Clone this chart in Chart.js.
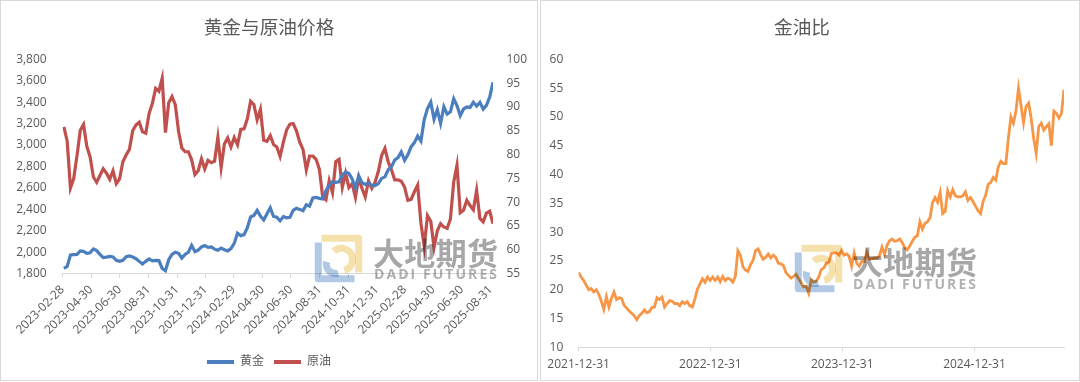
<!DOCTYPE html>
<html><head><meta charset="utf-8">
<script src="https://cdn.jsdelivr.net/npm/chart.js@4.4.1/dist/chart.umd.min.js"></script>
<style>
html,body{margin:0;padding:0;background:#fff;}
body{width:1080px;height:382px;position:relative;overflow:hidden;}
.panel{position:absolute;top:0;height:382px;}
#p1{left:0;width:538px;}
#p2{left:540px;width:540px;}
.frame{position:absolute;border:1px solid #d9d9d9;box-sizing:border-box;pointer-events:none;}
canvas{display:block;}
</style></head><body>
<div class="panel" id="p1"><canvas id="c1" width="538" height="382"></canvas></div>
<div class="panel" id="p2"><canvas id="c2" width="540" height="382"></canvas></div>
<div class="frame" style="left:0;top:0;width:538px;height:381px"></div>
<div class="frame" style="left:540px;top:0;width:540px;height:381px"></div>
<script>
// ---------- DATA ----------
// weekly (Friday) observation dates
const weekDates = [
'2021-12-31',
'2022-01-07','2022-01-14','2022-01-21','2022-01-28','2022-02-04','2022-02-11','2022-02-18','2022-02-25',
'2022-03-04','2022-03-11','2022-03-18','2022-03-25','2022-04-01','2022-04-08','2022-04-15','2022-04-22','2022-04-29',
'2022-05-06','2022-05-13','2022-05-20','2022-05-27','2022-06-03','2022-06-10','2022-06-17','2022-06-24',
'2022-07-01','2022-07-08','2022-07-15','2022-07-22','2022-07-29','2022-08-05','2022-08-12','2022-08-19','2022-08-26',
'2022-09-02','2022-09-09','2022-09-16','2022-09-23','2022-09-30','2022-10-07','2022-10-14','2022-10-21','2022-10-28',
'2022-11-04','2022-11-11','2022-11-18','2022-11-25','2022-12-02','2022-12-09','2022-12-16','2022-12-23','2022-12-30',
'2023-01-06','2023-01-13','2023-01-20','2023-01-27','2023-02-03','2023-02-10','2023-02-17','2023-02-24',
'2023-03-03','2023-03-10','2023-03-17','2023-03-24','2023-03-31','2023-04-07','2023-04-14','2023-04-21','2023-04-28',
'2023-05-05','2023-05-12','2023-05-19','2023-05-26','2023-06-02','2023-06-09','2023-06-16','2023-06-23','2023-06-30',
'2023-07-07','2023-07-14','2023-07-21','2023-07-28','2023-08-04','2023-08-11','2023-08-18','2023-08-25',
'2023-09-01','2023-09-08','2023-09-15','2023-09-22','2023-09-29','2023-10-06','2023-10-13','2023-10-20','2023-10-27',
'2023-11-03','2023-11-10','2023-11-17','2023-11-24','2023-12-01','2023-12-08','2023-12-15','2023-12-22','2023-12-29',
'2024-01-05','2024-01-12','2024-01-19','2024-01-26','2024-02-02','2024-02-09','2024-02-16','2024-02-23',
'2024-03-01','2024-03-08','2024-03-15','2024-03-22','2024-03-29','2024-04-05','2024-04-12','2024-04-19','2024-04-26',
'2024-05-03','2024-05-10','2024-05-17','2024-05-24','2024-05-31','2024-06-07','2024-06-14','2024-06-21','2024-06-28',
'2024-07-05','2024-07-12','2024-07-19','2024-07-26','2024-08-02','2024-08-09','2024-08-16','2024-08-23','2024-08-30',
'2024-09-06','2024-09-13','2024-09-20','2024-09-27','2024-10-04','2024-10-11','2024-10-18','2024-10-25',
'2024-11-01','2024-11-08','2024-11-15','2024-11-22','2024-11-29','2024-12-06','2024-12-13','2024-12-20','2024-12-27',
'2025-01-03','2025-01-10','2025-01-17','2025-01-24','2025-01-31','2025-02-07','2025-02-14','2025-02-21','2025-02-28',
'2025-03-07','2025-03-14','2025-03-21','2025-03-28','2025-04-04','2025-04-11','2025-04-18','2025-04-25',
'2025-05-02','2025-05-09','2025-05-16','2025-05-23','2025-05-30','2025-06-06','2025-06-13','2025-06-20','2025-06-27',
'2025-07-04','2025-07-11','2025-07-18','2025-07-25','2025-08-01','2025-08-08','2025-08-15','2025-08-22','2025-08-29',
'2025-09-05'
];

// 黄金 (USD/oz), weekly from 2023-03-03
const goldValues = [
1850,1868,1975,1978,1980,2012,2008,1990,1995,2030,2015,1980,1950,1955,1962,1956,1925,1915,1925,1958,1965,1955,
1940,1915,1890,1915,1938,1920,1925,1922,1850,1828,1930,1980,2000,1990,1945,1980,2000,2065,2005,2020,2050,2062,
2045,2049,2029,2018,2039,2024,2013,2035,2083,2179,2155,2165,2230,2329,2344,2391,2337,2301,2360,2415,2334,2327,
2293,2333,2322,2326,2391,2411,2400,2387,2443,2431,2507,2512,2503,2497,2577,2621,2658,2653,2657,2721,2747,
2736,2685,2600,2715,2650,2633,2648,2622,2621,
2640,2689,2703,2770,2798,2861,2883,2936,2858,2910,2984,3023,3085,3037,3237,3340,3400,3241,3330,3203,3357,3289,
3310,3433,3368,3274,3337,3355,3350,3400,3363,3398,3336,3371,3448,3586
];

// 原油 (USD/bbl), weekly from 2023-03-03
const oilValues = [
85.8,82.8,73.0,75.0,79.8,85.1,86.3,81.7,79.5,75.3,74.2,75.6,77.0,76.1,74.8,76.6,73.9,74.9,78.5,79.9,81.1,85.0,
86.2,86.8,84.8,84.5,88.6,90.7,93.9,93.3,96.0,84.6,90.9,92.2,90.5,84.9,81.4,80.6,80.6,78.9,75.8,76.6,79.1,77.0,
78.8,78.3,78.6,83.6,77.3,82.2,83.5,81.6,83.6,82.1,85.3,85.4,87.5,91.2,90.5,87.3,89.5,83.0,82.8,84.0,82.1,81.6,
79.6,82.6,85.2,86.4,86.5,85.0,82.6,81.1,76.8,79.7,79.7,79.0,76.9,71.1,70.5,74.5,72.0,78.5,79.0,73.1,76.1,
73.1,73.9,71.0,75.2,72.9,71.1,74.5,72.9,74.2,
76.5,79.8,81.3,78.5,76.8,74.7,74.7,74.4,73.2,70.4,70.6,72.2,73.6,65.6,60.8,67.2,66.0,60.5,64.0,65.5,64.8,64.5,
66.5,74.2,77.8,67.8,68.3,70.4,69.3,68.4,72.5,66.6,65.9,67.7,68.1,65.5
];

// 金油比, weekly from 2021-12-31
const ratioValues = [
23.0,
22.2,21.6,20.8,20.0,20.2,19.6,20.0,19.2,18.0,16.6,18.8,17.0,18.5,19.6,18.3,18.6,18.5,17.3,16.8,16.3,15.9,
15.5,14.8,15.5,15.9,16.5,16.0,16.2,16.9,17.0,18.6,18.3,18.7,17.0,17.6,18.1,18.0,17.6,17.6,17.2,17.9,17.6,17.9,
17.2,17.0,18.4,20.1,21.0,21.9,21.3,22.2,21.6,
22.2,21.6,22.2,21.4,22.3,21.6,22.0,21.8,21.3,22.3,26.8,26.0,24.0,23.4,23.2,24.3,25.1,26.8,27.1,26.1,25.3,
25.6,26.2,25.5,26.0,25.6,24.6,24.5,24.2,23.0,22.5,22.0,22.3,22.7,21.9,21.2,20.5,20.6,19.4,21.7,21.3,21.5,22.2,
23.5,23.8,24.6,24.8,26.3,26.4,26.4,26.0,26.8,
26.0,26.2,25.8,24.1,26.4,24.6,24.1,24.9,24.9,26.5,25.3,25.4,25.5,25.5,25.9,27.4,26.1,27.7,28.5,28.8,28.4,28.5,
28.8,28.2,27.3,26.9,27.6,28.4,29.1,29.4,31.8,30.5,31.5,31.8,32.5,35.1,36.0,35.2,36.9,33.2,33.6,37.2,36.1,
37.4,36.3,36.1,36.1,36.3,37.0,35.5,36.0,35.3,
34.5,33.7,33.2,35.3,36.4,38.3,38.6,39.5,39.0,41.3,42.3,41.9,41.9,46.3,50.0,48.9,51.0,55.0,52.0,49.0,51.8,52.4,
49.8,46.3,43.7,48.3,48.9,47.7,48.3,48.8,45.0,51.0,50.6,49.8,50.6,54.7
];

const leftStart = '2023-03-03';
const leftAxisRange = ['2023-02-28','2025-09-05'];
const rightAxisRange = ['2021-12-31','2025-09-05'];
const leftTickLabels = ['2023-02-28','2023-04-30','2023-06-30','2023-08-31','2023-10-31','2023-12-31','2024-02-29','2024-04-30','2024-06-30','2024-08-31','2024-10-31','2024-12-31','2025-02-28','2025-04-30','2025-06-30','2025-08-31'];
const rightTickLabels = ['2021-12-31','2022-12-31','2023-12-31','2024-12-31'];
const seriesNames = ['黄金','原油','金油比'];
const titles = ['黄金与原油价格','金油比'];

// ---------- HELPERS ----------
function toDay(s){const [y,m,d]=s.split('-').map(Number);return Date.UTC(y,m-1,d)/86400000;}
function fromDay(v){const dt=new Date(Math.round(v)*86400000);return dt.toISOString().slice(0,10);}
const leftDates = weekDates.slice(weekDates.indexOf(leftStart));
const goldPts = leftDates.map((d,i)=>({x:toDay(d),y:goldValues[i]}));
const oilPts = leftDates.map((d,i)=>({x:toDay(d),y:oilValues[i]}));
const ratioPts = weekDates.map((d,i)=>({x:toDay(d),y:ratioValues[i]}));

const FONT = '"Open Sans","Noto Sans CJK SC",sans-serif';
Chart.defaults.font.family = FONT;
Chart.defaults.color = '#595959';

const COLORS = {gold:'#4A7EBF', oil:'#C0504D', ratio:'#F79646'};

function drawLogo(ctx,x,y,s){
  ctx.save();
  ctx.lineWidth=s*0.15; ctx.lineJoin='round'; ctx.lineCap='butt';
  ctx.strokeStyle='rgba(240,212,135,0.7)';
  ctx.beginPath(); ctx.moveTo(x+s*0.14,y+s*0.07); ctx.lineTo(x+s*0.93,y+s*0.07); ctx.lineTo(x+s*0.93,y+s*0.8); ctx.stroke();
  ctx.beginPath(); ctx.arc(x+s*0.56,y+s*0.52,s*0.24,-2.3,1.3); ctx.stroke();
  ctx.strokeStyle='rgba(145,178,218,0.7)';
  ctx.beginPath(); ctx.moveTo(x+s*0.07,y+s*0.16); ctx.lineTo(x+s*0.07,y+s*0.93); ctx.lineTo(x+s*0.84,y+s*0.93); ctx.stroke();
  ctx.beginPath(); ctx.arc(x+s*0.44,y+s*0.62,s*0.2,1.3,3.4); ctx.stroke();
  ctx.restore();
}
function spacedText(ctx,text,x,y,w){
  const chars=[...text];
  const widths=chars.map(c=>ctx.measureText(c).width);
  const total=widths.reduce((a,b)=>a+b,0);
  const gap=(w-total)/(chars.length-1);
  let cx=x;
  chars.forEach((c,i)=>{ctx.fillText(c,cx,y);cx+=widths[i]+gap;});
}
const watermark = {
  id:'watermark',
  afterDatasetsDraw(chart,args,opts){
    const ctx=chart.ctx;
    ctx.save();
    ctx.globalCompositeOperation='multiply';
    drawLogo(ctx,opts.logoX,opts.logoY,opts.logoS);
    ctx.fillStyle='rgba(125,125,125,0.68)';
    ctx.textBaseline='middle'; ctx.textAlign='left';
    ctx.font='bold 31px "Noto Sans CJK SC"';
    spacedText(ctx,'大地期货',opts.textX,opts.cnY,opts.textW);
    ctx.fillStyle='rgba(125,125,125,0.6)';
    ctx.font='bold 14px "Open Sans"';
    spacedText(ctx,'DADI FUTURES',opts.textX+1,opts.enY,opts.textW-2);
    ctx.restore();
  }
};

const titleOpts = (t)=>({display:true,text:t,color:'#595959',font:{size:18.67,weight:'normal',family:FONT},padding:{top:17.8,bottom:19.1}});

// ---------- LEFT CHART ----------
new Chart(document.getElementById('c1'),{
  type:'line',
  data:{datasets:[
    {label:seriesNames[0],data:goldPts,yAxisID:'y',borderColor:COLORS.gold,backgroundColor:COLORS.gold,borderWidth:3.2,pointRadius:0,tension:0},
    {label:seriesNames[1],data:oilPts,yAxisID:'y2',borderColor:COLORS.oil,backgroundColor:COLORS.oil,borderWidth:3.2,pointRadius:0,tension:0}
  ]},
  plugins:[watermark],
  options:{
    responsive:false,animation:false,
    layout:{padding:{left:0,right:0,top:0,bottom:4}},
    plugins:{
      title:titleOpts(titles[0]),
      legend:{position:'bottom',labels:{boxWidth:27,boxHeight:4,padding:10,color:'#595959',font:{size:12,family:FONT},
        generateLabels(chart){const it=Chart.defaults.plugins.legend.labels.generateLabels(chart);it.forEach(o=>{o.lineWidth=0;o.fillStyle=o.strokeStyle;});return it;}}},
      tooltip:{enabled:false},
      watermark:{logoX:315,logoY:235,logoS:47,textX:373,textW:125,cnY:253.5,enY:275}
    },
    scales:{
      x:{type:'linear',min:toDay(leftAxisRange[0]),max:toDay(leftAxisRange[1]),
        afterBuildTicks(s){s.ticks=leftTickLabels.map(d=>({value:toDay(d)}));},
        ticks:{autoSkip:false,minRotation:45,maxRotation:45,padding:5,color:'#595959',font:{size:12},callback:v=>fromDay(v)},
        grid:{display:true,drawOnChartArea:false,drawTicks:true,tickLength:4,color:'#d9d9d9'},
        border:{display:true,color:'#d9d9d9'},
        afterFit(s){s.height=72.3;}},
      y:{position:'left',min:1800,max:3800,
        ticks:{stepSize:200,padding:15.8,color:'#595959',font:{size:12},callback:v=>v.toLocaleString('en-US')},
        grid:{display:false,drawTicks:false},border:{display:false},
        afterFit(s){s.width=62.5;}},
      y2:{position:'right',min:55,max:100,
        ticks:{stepSize:5,padding:13.5,color:'#595959',font:{size:12}},
        grid:{display:false,drawTicks:false},border:{display:false},
        afterFit(s){s.width=45;}}
    }
  }
});

// ---------- RIGHT CHART ----------
new Chart(document.getElementById('c2'),{
  type:'line',
  data:{datasets:[
    {label:seriesNames[2],data:ratioPts,borderColor:COLORS.ratio,backgroundColor:COLORS.ratio,borderWidth:2.8,pointRadius:0,tension:0}
  ]},
  plugins:[watermark],
  options:{
    responsive:false,animation:false,
    layout:{padding:{left:0,right:16,top:0,bottom:0}},
    plugins:{
      title:titleOpts(titles[1]),
      legend:{display:false},
      tooltip:{enabled:false},
      watermark:{logoX:255,logoY:245,logoS:47,textX:312,textW:125,cnY:262.5,enY:285}
    },
    scales:{
      x:{type:'linear',min:toDay(rightAxisRange[0]),max:toDay(rightAxisRange[1]),
        afterBuildTicks(s){s.ticks=rightTickLabels.map(d=>({value:toDay(d)}));},
        ticks:{autoSkip:false,minRotation:0,maxRotation:0,padding:6.5,color:'#595959',font:{size:12},callback:v=>fromDay(v)},
        grid:{display:true,drawOnChartArea:false,drawTicks:true,tickLength:4,color:'#d9d9d9'},
        border:{display:true,color:'#d9d9d9'},
        afterFit(s){s.height=34.7;}},
      y:{position:'left',min:10,max:60,
        ticks:{stepSize:5,padding:15.3,color:'#595959',font:{size:12}},
        grid:{display:false,drawTicks:false},border:{display:false},
        afterFit(s){s.width=38.6;}}
    }
  }
});
</script>
</body></html>
